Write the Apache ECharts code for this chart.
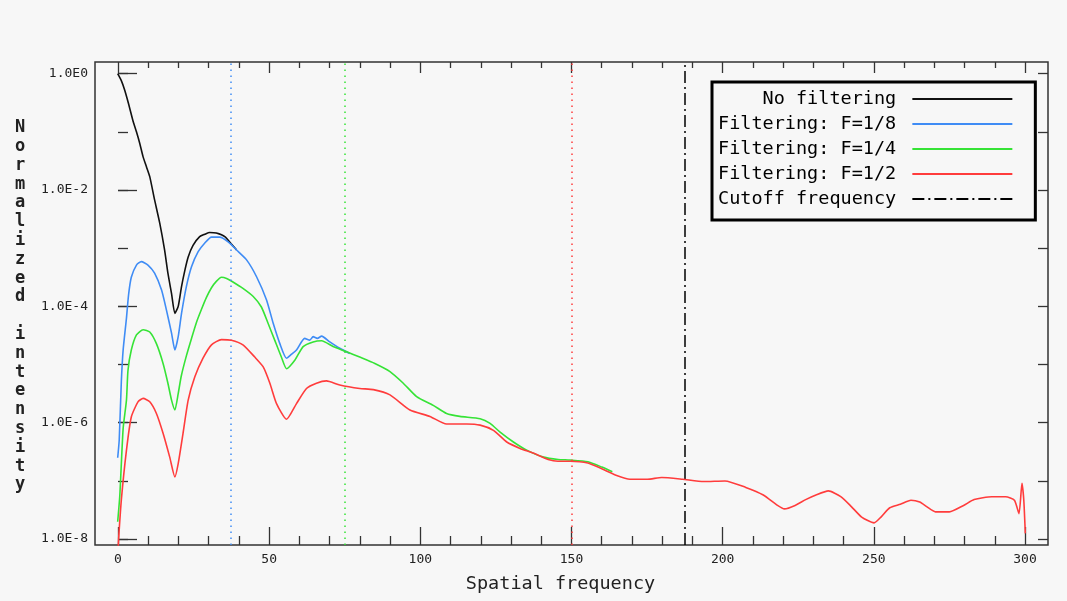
<!DOCTYPE html>
<html><head><meta charset="utf-8">
<script src="https://cdn.jsdelivr.net/npm/echarts@6/dist/echarts.min.js"></script>
<style>html,body{margin:0;padding:0;background:#f7f7f7}#c{width:1067px;height:601px}</style>
</head><body><div id="c"></div><script>
const xTitle = 'Spatial frequency';
const yTitle = 'Normalized intensity';
const seriesNames = ['No filtering', 'Filtering: F=1/8', 'Filtering: F=1/4', 'Filtering: F=1/2', 'Cutoff frequency'];
const filterCutoffs = [37.5, 75, 150];
const cutoffFreq = 187.5;

const noFiltFreq = [0, 1.2, 2.3, 3.5, 5, 6.2, 7.3, 8.4, 9.5, 10.6, 12.2, 13.9, 15.5, 16.6, 17.8, 18.9, 20, 21.1, 22.2, 23.3, 24.9, 27.1, 28.8, 30.4, 32.6, 35.4, 38.1, 39.3];
const noFiltExp  = [0, -0.12, -0.28, -0.5, -0.8, -1.0, -1.2, -1.43, -1.6, -1.77, -2.17, -2.57, -3.03, -3.43, -3.78, -4.12, -4.0, -3.66, -3.38, -3.15, -2.95, -2.80, -2.76, -2.73, -2.74, -2.80, -2.96, -3.03];

const f8Freq = [0, 0.5, 1.2, 1.8, 2.9, 3.6, 4.5, 6.2, 7.8, 10, 12.2, 14.5, 16.1, 17.8, 18.9, 20, 21.1, 22.7, 24.4, 26.6, 28.8, 31, 33.7, 36.5, 39.3, 42.6, 45.9, 49.2, 51.4, 53.6, 55.8, 57.5, 59.1, 61.8, 63.5, 64.6, 66, 67.4, 70.1, 73.4, 76.7];
const f8Exp  = [-6.6, -6.3, -5.3, -4.75, -4.2, -3.8, -3.5, -3.29, -3.23, -3.29, -3.43, -3.72, -4.06, -4.46, -4.75, -4.52, -4.12, -3.66, -3.32, -3.06, -2.91, -2.81, -2.81, -2.89, -3.03, -3.20, -3.49, -3.89, -4.29, -4.64, -4.89, -4.82, -4.75, -4.55, -4.58, -4.52, -4.55, -4.51, -4.61, -4.72, -4.81];

const f4Freq = [0, 0.7, 1.8, 2.9, 3.4, 4.5, 6.2, 8.4, 10.6, 12.8, 15, 16.6, 17.8, 18.9, 20, 21, 22.7, 24.4, 26, 27.7, 29.3, 31, 32.6, 34.3, 36, 38.1, 41.4, 44.8, 47.5, 49.7, 51.9, 54.1, 55.8, 58.6, 61.3, 64.6, 67.4, 71.2, 75.7, 80, 85, 90, 94.4, 98.8, 104.3, 108.7, 113.1, 119.8, 123.1, 126.4, 130.8, 135.2, 140.8, 145.6, 149.5, 155.4, 160, 163.5];
const f4Exp  = [-7.7, -7.25, -6.1, -5.61, -5.1, -4.75, -4.49, -4.40, -4.44, -4.64, -4.98, -5.32, -5.61, -5.78, -5.5, -5.2, -4.85, -4.55, -4.28, -4.05, -3.85, -3.68, -3.57, -3.50, -3.52, -3.58, -3.69, -3.83, -4.01, -4.29, -4.58, -4.87, -5.07, -4.92, -4.69, -4.61, -4.59, -4.69, -4.78, -4.87, -4.98, -5.12, -5.32, -5.55, -5.70, -5.84, -5.89, -5.93, -6.01, -6.16, -6.33, -6.47, -6.59, -6.63, -6.64, -6.67, -6.76, -6.84];

const f2Freq = [0, 0.3, 1.2, 2.9, 4.5, 6.7, 8.4, 10.6, 12.8, 15, 17.2, 18.9, 20, 21.6, 23.3, 25.5, 28.2, 31, 34.3, 37.6, 41.4, 45.3, 48.1, 50.3, 52.5, 55.8, 59.1, 62.4, 65.7, 69, 73.4, 80, 84.5, 90, 96.6, 103.2, 108.7, 115.4, 119.8, 124.2, 128.6, 133, 137.3, 142.3, 145.5, 149.5, 155.4, 160, 164.7, 169.3, 175.1, 179.8, 186.7, 193.7, 200.7, 207.6, 213.4, 218.1, 220.4, 223.9, 227.4, 230.8, 234.9, 239, 242.5, 245.9, 250, 252.3, 255.2, 258.7, 262.2, 265.1, 267.4, 270.3, 274.9, 279.6, 283.1, 288.9, 293.5, 296.4, 297.9, 298.9, 299.5, 300];
const f2Exp  = [-8.3, -8.0, -7.33, -6.47, -5.90, -5.64, -5.58, -5.64, -5.84, -6.18, -6.59, -6.93, -6.70, -6.18, -5.61, -5.21, -4.89, -4.66, -4.57, -4.58, -4.66, -4.87, -5.04, -5.32, -5.67, -5.94, -5.67, -5.41, -5.32, -5.28, -5.35, -5.41, -5.43, -5.52, -5.78, -5.89, -6.02, -6.02, -6.04, -6.13, -6.33, -6.44, -6.52, -6.63, -6.66, -6.66, -6.69, -6.79, -6.90, -6.97, -6.97, -6.94, -6.97, -7.01, -7.00, -7.11, -7.24, -7.42, -7.48, -7.42, -7.32, -7.24, -7.17, -7.27, -7.44, -7.62, -7.72, -7.62, -7.46, -7.40, -7.33, -7.36, -7.44, -7.53, -7.53, -7.42, -7.32, -7.27, -7.27, -7.33, -7.56, -7.04, -7.33, -7.90];

// ---- chart ----
const MONO = "'DejaVu Sans Mono', 'Liberation Mono', monospace";
const COLORS = ['#111111', '#3f8cf5', '#36e336', '#ff3c3c', '#000000'];
const pts = (xs, es) => xs.map((x, i) => [x, Math.pow(10, es[i])]);
const vline = (x, color, type) => ({
  silent: true, symbol: 'none', label: { show: false }, animation: false,
  lineStyle: { color: color, width: 1.5, type: type },
  emphasis: { disabled: true },
  data: [{ xAxis: x }]
});
const baseSeries = (name, data, color, width, z) => ({
  name: name, type: 'line', xAxisIndex: 0, yAxisIndex: 0, data: data,
  symbol: 'none', showSymbol: false, clip: true, z: z,
  smooth: 0.2,
  lineStyle: { color: color, width: width }, itemStyle: { color: color },
  emphasis: { disabled: true }
});
const tickStyle = { color: '#333', width: 1.3 };

const chart = echarts.init(document.getElementById('c'), null, { renderer: 'canvas' });
const s0 = baseSeries(seriesNames[0], pts(noFiltFreq, noFiltExp), COLORS[0], 1.6, 2);
const s1 = baseSeries(seriesNames[1], pts(f8Freq, f8Exp), COLORS[1], 1.6, 3);
s1.markLine = vline(filterCutoffs[0], COLORS[1], [1.5, 4.5]);
const s2 = baseSeries(seriesNames[2], pts(f4Freq, f4Exp), COLORS[2], 1.6, 4);
s2.markLine = vline(filterCutoffs[1], COLORS[2], [1.5, 4.5]);
const s3 = baseSeries(seriesNames[3], pts(f2Freq, f2Exp), COLORS[3], 1.6, 5);
s3.markLine = vline(filterCutoffs[2], COLORS[3], [1.5, 4.5]);
const s4 = baseSeries(seriesNames[4], [], COLORS[4], 1.6, 1);
s4.lineStyle.type = [12, 4, 2, 4];
s4.markLine = vline(cutoffFreq, COLORS[4], [12, 4, 2, 4]);

chart.setOption({
  backgroundColor: '#f7f7f7',
  animation: false,
  grid: [
    { left: 95, right: 19, top: 62, bottom: 56, show: true, borderColor: '#333', borderWidth: 1.5, backgroundColor: 'transparent' },
    { left: 118, right: 42, top: 73.7, bottom: 62 }
  ],
  legend: {
    orient: 'vertical', left: 712, top: 82, align: 'right',
    padding: [7, 22, 11, 6], itemGap: 5, itemWidth: 100, itemHeight: 14,
    borderColor: '#000', borderWidth: 3, backgroundColor: '#f7f7f7',
    selectedMode: false,
    itemStyle: { opacity: 0 },
    textStyle: { fontFamily: MONO, fontSize: 18.5, lineHeight: 20, color: '#000' },
    formatter: n => n.padStart(16, ' ') + ' ',
    data: seriesNames
  },
  xAxis: [
    { type: 'value', gridIndex: 0, min: -7.5, max: 307.5, show: false },
    { type: 'value', gridIndex: 1, min: 0, max: 300, interval: 50, position: 'bottom', offset: 6,
      axisLine: { show: false },
      axisTick: { inside: true, length: 18, lineStyle: tickStyle },
      minorTick: { show: true, splitNumber: 5, length: 9, lineStyle: tickStyle },
      splitLine: { show: false }, minorSplitLine: { show: false },
      axisLabel: { margin: 8, fontFamily: MONO, fontSize: 13, color: '#222' },
      name: xTitle, nameLocation: 'middle', nameGap: 30,
      nameTextStyle: { fontFamily: MONO, fontSize: 18.5, color: '#222', padding: [0, 22, 0, 0] } },
    { type: 'value', gridIndex: 1, min: 0, max: 300, interval: 50, position: 'top', offset: 11.7,
      axisLine: { show: false },
      axisTick: { inside: true, length: 11, lineStyle: tickStyle },
      minorTick: { show: true, splitNumber: 5, length: 6, lineStyle: tickStyle },
      splitLine: { show: false }, minorSplitLine: { show: false },
      axisLabel: { show: false } }
  ],
  yAxis: [
    { type: 'log', logBase: 10, gridIndex: 0, min: Math.pow(10, -8.1), max: Math.pow(10, 0.2), show: false },
    { type: 'log', logBase: 10, gridIndex: 1, min: 1e-8, max: 1, interval: 2, position: 'left', offset: 23,
      axisLine: { show: false },
      axisTick: { inside: true, length: 19, lineStyle: tickStyle },
      splitLine: { show: false },
      axisLabel: { margin: 7, fontFamily: MONO, fontSize: 13, color: '#222',
        formatter: v => '1.0E' + Math.round(Math.log10(v)) },
      name: yTitle.split('').join('\n'), nameLocation: 'middle', nameRotate: 0, nameGap: 75,
      nameTextStyle: { fontFamily: MONO, fontSize: 17, fontWeight: 'bold', lineHeight: 18.8, color: '#222',
        align: 'center', verticalAlign: 'middle', padding: [24, 0, 0, 0] } },
    { type: 'log', logBase: 10, gridIndex: 1, min: 1e-8, max: 1, interval: 1, position: 'left', offset: 23,
      axisLine: { show: false },
      axisTick: { inside: true, length: 10, lineStyle: tickStyle },
      splitLine: { show: false }, axisLabel: { show: false } },
    { type: 'log', logBase: 10, gridIndex: 1, min: 1e-8, max: 1, interval: 1, position: 'right', offset: 23,
      axisLine: { show: false },
      axisTick: { inside: true, length: 10, lineStyle: tickStyle },
      splitLine: { show: false }, axisLabel: { show: false } }
  ],
  series: [s4, s0, s1, s2, s3]
});
</script></body></html>
